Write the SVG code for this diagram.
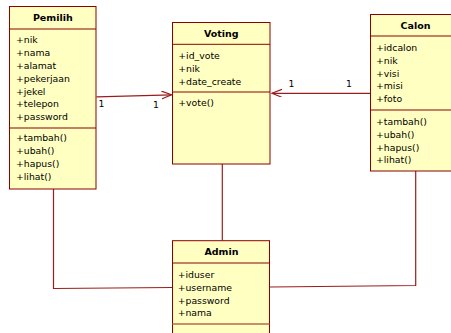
<svg xmlns="http://www.w3.org/2000/svg" width="451" height="333" viewBox="0 0 451 333">
<style>
.box{fill:#FFFFC2;stroke:#8B0000;stroke-width:1}
.div{stroke:#8B0000;stroke-width:1}
.t{font-family:"DejaVu Sans",Verdana,sans-serif;font-size:9.3px;fill:#000}
.h{font-family:"DejaVu Sans",Verdana,sans-serif;font-size:9.5px;font-weight:bold;fill:#000;text-anchor:middle}
.c{fill:none;stroke:#9B1C1C;stroke-width:1.2}
</style>
<defs>
<marker id="arr" markerWidth="12" markerHeight="10" refX="10" refY="4" orient="auto" markerUnits="userSpaceOnUse">
<path d="M0,0 L10,4 L0,8" fill="none" stroke="#9B1C1C" stroke-width="1.2"/>
</marker>
</defs>
<rect width="451" height="333" fill="#fff"/>
<g id="connectors">
<line class="c" x1="96.5" y1="96.8" x2="171.5" y2="94.8" marker-end="url(#arr)"/>
<line class="c" x1="370" y1="93.3" x2="272" y2="93.3" marker-end="url(#arr)"/>
<line class="c" x1="222.3" y1="164" x2="222.3" y2="240.5"/>
<polyline class="c" points="53.5,189 53.5,288.5 172.5,287.5"/>
<polyline class="c" points="415.7,171 415.7,285.5 270,287"/>
<text class="t" x="98.5" y="107">1</text>
<text class="t" x="153" y="108">1</text>
<text class="t" x="288.5" y="87">1</text>
<text class="t" x="346" y="87">1</text>
</g>
<g id="Pemilih">
<rect class="box" x="9.5" y="6.5" width="86.5" height="182.5"/>
<line class="div" x1="9.5" y1="29" x2="96" y2="29"/>
<line class="div" x1="9.5" y1="128" x2="96" y2="128"/>
<text class="h" x="52.8" y="20.5">Pemilih</text>
<text class="t" x="16" y="43.3">+nik</text>
<text class="t" x="16" y="56.1">+nama</text>
<text class="t" x="16" y="68.9">+alamat</text>
<text class="t" x="16" y="81.7">+pekerjaan</text>
<text class="t" x="16" y="94.5">+jekel</text>
<text class="t" x="16" y="107.3">+telepon</text>
<text class="t" x="16" y="120.1">+password</text>
<text class="t" x="16" y="141">+tambah()</text>
<text class="t" x="16" y="154">+ubah()</text>
<text class="t" x="16" y="167">+hapus()</text>
<text class="t" x="16" y="180">+lihat()</text>
</g>
<g id="Voting">
<rect class="box" x="172.5" y="22.5" width="97.5" height="141.5"/>
<line class="div" x1="172.5" y1="44.3" x2="270" y2="44.3"/>
<line class="div" x1="172.5" y1="92" x2="270" y2="92"/>
<text class="h" x="221.3" y="36.5">Voting</text>
<text class="t" x="178.3" y="58.5">+id_vote</text>
<text class="t" x="178.3" y="71.5">+nik</text>
<text class="t" x="178.3" y="84.5">+date_create</text>
<text class="t" x="178.3" y="106">+vote()</text>
</g>
<g id="Calon">
<rect class="box" x="370.5" y="14.5" width="92" height="156.5"/>
<line class="div" x1="370.5" y1="36" x2="462" y2="36"/>
<line class="div" x1="370.5" y1="110" x2="462" y2="110"/>
<text class="h" x="415.5" y="28.5">Calon</text>
<text class="t" x="376" y="51">+idcalon</text>
<text class="t" x="376" y="63.8">+nik</text>
<text class="t" x="376" y="76.6">+visi</text>
<text class="t" x="376" y="89.4">+misi</text>
<text class="t" x="376" y="102.2">+foto</text>
<text class="t" x="376" y="125">+tambah()</text>
<text class="t" x="376" y="137.8">+ubah()</text>
<text class="t" x="376" y="150.6">+hapus()</text>
<text class="t" x="376" y="163.4">+lihat()</text>
</g>
<g id="Admin">
<rect class="box" x="172.5" y="240.7" width="97" height="100"/>
<line class="div" x1="172.5" y1="263" x2="269.5" y2="263"/>
<line x1="172.5" y1="324" x2="269.5" y2="324" stroke="#B8694E" stroke-width="1.6"/>
<text class="h" x="221.5" y="255">Admin</text>
<text class="t" x="177.7" y="278">+iduser</text>
<text class="t" x="177.7" y="290.8">+username</text>
<text class="t" x="177.7" y="303.6">+password</text>
<text class="t" x="177.7" y="316.4">+nama</text>
</g>
</svg>
